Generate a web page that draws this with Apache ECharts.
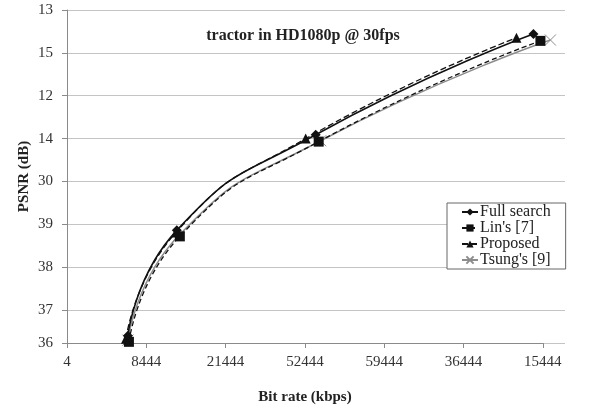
<!DOCTYPE html>
<html>
<head>
<meta charset="utf-8">
<script src="https://cdn.jsdelivr.net/npm/echarts@6/dist/echarts.min.js"></script>
<style>
html,body{margin:0;padding:0;background:#fff;}
#chart{width:595px;height:414px;}
</style>
</head>
<body>
<div id="chart"></div>
<script>
// Tick labels as printed on the reference
const xTickValues = [0, 10000, 20000, 30000, 40000, 50000, 60000];
const xTickLabels = ["4", "8444", "21444", "52444", "59444", "36444", "15444"];
const yTickLabels = ["36", "37", "38", "39", "30", "14", "12", "15", "13"]; // bottom -> top

// Series data (bit rate in kbps, PSNR in dB)
const fullX = [7680, 13850, 31360, 58820];
const fullY = [36.40, 38.86, 41.09, 43.44];
const linX = [7810, 14230, 31740, 59700];
const linY = [36.26, 38.72, 40.93, 43.28];
const propX = [7430, 13730, 30100, 56680];
const propY = [36.33, 38.81, 41.00, 43.35];
const tsungX = [7680, 14100, 31990, 60960];
const tsungY = [36.30, 38.74, 40.95, 43.30];

const seriesNames = ["Full search", "Lin's [7]", "Proposed", "Tsung's [9]"];

const X_MIN = 0, X_MAX = 62800, Y_MIN = 36.233, Y_MAX = 44;

function pairs(xs, ys) { return xs.map((x, i) => [x, ys[i]]); }

const FONT = "'Liberation Serif', 'Times New Roman', serif";
const chart = echarts.init(document.getElementById('chart'), null, {renderer: 'canvas'});

const option = {
  animation: false,
  backgroundColor: '#fff',
  title: {
    text: 'tractor in HD1080p @ 30fps',
    left: 298, top: 23, textAlign: 'center',
    textStyle: {fontFamily: FONT, fontWeight: 'bold', fontSize: 16, color: '#222'}
  },
  grid: {left: 67, right: 30, top: 10, bottom: 71, containLabel: false},
  xAxis: {
    type: 'value', min: X_MIN, max: X_MAX,
    name: 'Bit rate (kbps)', nameLocation: 'middle', nameGap: 47, nameMoveOverlap: false,
    nameTextStyle: {fontFamily: FONT, fontWeight: 'bold', fontSize: 15, color: '#222', padding: [0, 22, 0, 0]},
    axisLine: {show: false},
    axisTick: {show: true, length: 5, customValues: xTickValues, lineStyle: {color: '#8a8a8a'}},
    axisLabel: {
      fontFamily: FONT, fontSize: 15, color: '#333', margin: 12,
      customValues: xTickValues,
      formatter: v => xTickLabels[xTickValues.indexOf(v)] || ''
    },
    splitLine: {show: false}
  },
  yAxis: {
    type: 'value', min: Y_MIN, max: Y_MAX, splitNumber: 8,
    name: 'PSNR (dB)', nameLocation: 'middle', nameGap: 35, nameMoveOverlap: false,
    nameTextStyle: {fontFamily: FONT, fontWeight: 'bold', fontSize: 15, color: '#222'},
    axisLine: {show: true, lineStyle: {color: '#8a8a8a', width: 1}},
    axisTick: {show: true, length: 5, lineStyle: {color: '#8a8a8a'}},
    axisLabel: {
      fontFamily: FONT, fontSize: 15, color: '#333', margin: 14,
      formatter: v => yTickLabels[Math.round(v) - 36] || ''
    },
    splitLine: {show: true, lineStyle: {color: '#c4c4c4', width: 1}}
  },
  legend: {
    orient: 'vertical', left: 447, top: 203, width: 120,
    padding: [1, 15, 1, 14],
    itemWidth: 16, itemHeight: 9, itemGap: 0,
    borderColor: '#666', borderWidth: 1, backgroundColor: '#fff',
    textStyle: {fontFamily: FONT, fontSize: 16, lineHeight: 16, color: '#222', padding: [0, 0, 0, -3]},
    data: seriesNames
  },
  series: [
    {
      name: seriesNames[0], type: 'line', smooth: 0.55, data: pairs(fullX, fullY),
      symbol: 'diamond', symbolSize: 10, z: 4,
      lineStyle: {color: '#111', width: 1.6},
      itemStyle: {color: '#111'},
      markLine: {
        silent: true, symbol: 'none', z: 1,
        label: {show: false},
        lineStyle: {color: '#8a8a8a', width: 1, type: 'solid'},
        data: [[{coord: [xTickValues[0], Y_MIN]}, {coord: [xTickValues[xTickValues.length - 1], Y_MIN]}]]
      }
    },
    {
      name: seriesNames[1], type: 'line', smooth: 0.55, data: pairs(linX, linY),
      symbol: 'rect', symbolSize: 10, z: 3,
      lineStyle: {color: '#111', width: 1.3, type: [5, 3]},
      itemStyle: {color: '#111'}
    },
    {
      name: seriesNames[2], type: 'line', smooth: 0.55, data: pairs(propX, propY),
      symbol: 'triangle', symbolSize: 10, z: 3,
      lineStyle: {color: '#111', width: 1.3, type: [6, 3]},
      itemStyle: {color: '#111'}
    },
    {
      name: seriesNames[3], type: 'line', smooth: 0.55, data: pairs(tsungX, tsungY),
      symbol: 'path://M0,0L10,10M10,0L0,10', symbolSize: 11, z: 2,
      lineStyle: {color: '#8c8c8c', width: 1.5},
      itemStyle: {color: '#8c8c8c', borderColor: '#8c8c8c', borderWidth: 1}
    }
  ]
};
chart.setOption(option);
</script>
</body>
</html>
